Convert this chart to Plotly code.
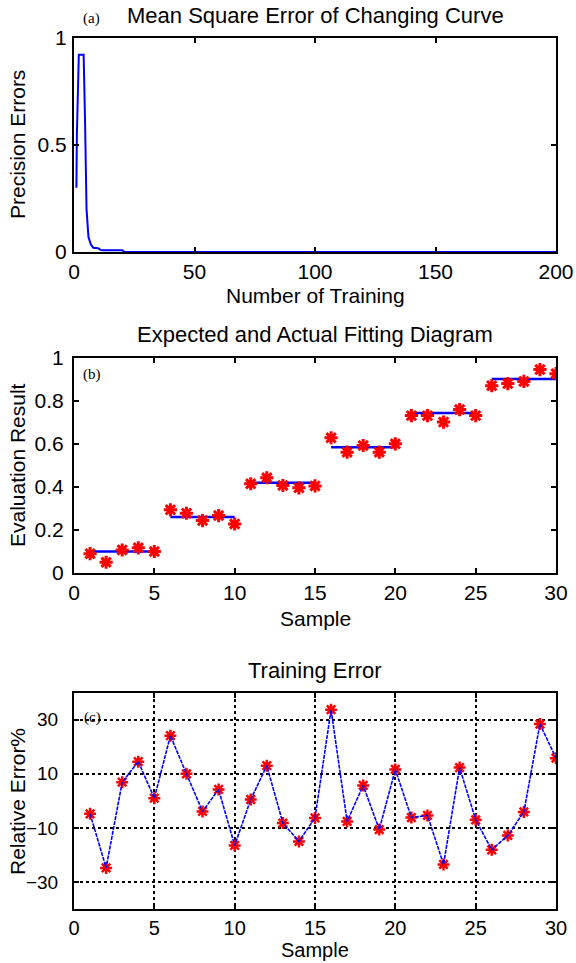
import plotly.graph_objects as go

# ---------- data ----------
# (a) mean square error curve
mse_epoch = [1, 1.2, 2, 4, 4.6, 5.2, 6, 7, 8, 10, 11, 12, 20, 21, 200]
mse_value = [0.30, 0.55, 0.92, 0.92, 0.60, 0.20, 0.07, 0.035, 0.02, 0.018, 0.01, 0.008, 0.008, 0.0, 0.0]

# (b) expected vs actual
samples = list(range(1, 31))
actual = [0.09, 0.05, 0.107, 0.117, 0.10,
          0.294, 0.278, 0.244, 0.267, 0.228,
          0.415, 0.443, 0.407, 0.396, 0.405,
          0.629, 0.562, 0.593, 0.562, 0.601,
          0.732, 0.732, 0.702, 0.760, 0.732,
          0.871, 0.881, 0.891, 0.946, 0.927]
group_start = [1, 6, 11, 16, 21, 26]
group_end = [5, 10, 15, 20, 25, 30]
expected = [0.10, 0.26, 0.42, 0.585, 0.744, 0.902]

# (c) relative training error (%)
rel_error = [-4.8, -24.8, 6.9, 14.5, 1.0, 24.1, 10.0, -3.9, 4.2, -16.5,
             0.5, 13.0, -8.2, -15.0, -6.3, 33.7, -7.6, 5.7, -10.6, 11.6,
             -6.2, -5.4, -23.5, 12.3, -7.0, -18.1, -12.8, -4.1, 28.4, 15.8]

W, H = 576, 963
def fx(p):
    return p / W
def fy(p):
    return 1 - p / H

FONT = "Liberation Sans, Arial, sans-serif"
SERIF = "Liberation Serif, Times New Roman, serif"
BLUE = "#0000ff"
RED = "#ff0000"

fig = go.Figure()

# (a)
fig.add_trace(go.Scatter(x=mse_epoch, y=mse_value, mode="lines",
                         line=dict(color=BLUE, width=2), xaxis="x", yaxis="y",
                         showlegend=False))

# (b)
lx, ly = [], []
for s, e, v in zip(group_start, group_end, expected):
    lx += [s, e, None]
    ly += [v, v, None]
fig.add_trace(go.Scatter(x=lx, y=ly, mode="lines", line=dict(color=BLUE, width=2.5),
                         xaxis="x2", yaxis="y2", showlegend=False))
fig.add_trace(go.Scatter(x=samples, y=actual, mode="markers",
                         marker=dict(symbol="asterisk-open", size=11, color=RED,
                                     line=dict(color=RED, width=3)),
                         xaxis="x2", yaxis="y2", showlegend=False))

# (c)
fig.add_trace(go.Scatter(x=samples, y=rel_error, mode="markers",
                         marker=dict(symbol="asterisk-open", size=10, color=RED,
                                     line=dict(color=RED, width=2.5)),
                         xaxis="x3", yaxis="y3", showlegend=False))
fig.add_trace(go.Scatter(x=samples, y=rel_error, mode="lines",
                         line=dict(color=BLUE, width=1.6, dash="4px,1px"),
                         xaxis="x3", yaxis="y3", showlegend=False))

axis_common = dict(showline=True, linecolor="black", linewidth=2, mirror="ticks",
                   ticks="inside", ticklen=5, tickwidth=1.5, tickcolor="black",
                   tickfont=dict(family=FONT, size=21, color="black"),
                   zeroline=False, showgrid=False, automargin=False, fixedrange=True)

xd = [fx(74), fx(556)]
fig.update_layout(
    width=W, height=H, template="none",
    margin=dict(l=0, r=0, t=0, b=0),
    paper_bgcolor="white", plot_bgcolor="white",
    font=dict(family=FONT, size=21, color="black"),
    xaxis=dict(axis_common, domain=xd, anchor="y", range=[0, 200],
               tickvals=[0, 50, 100, 150, 200]),
    yaxis=dict(axis_common, domain=[fy(252), fy(37.7)], anchor="x", range=[0, 1],
               tickvals=[0, 0.5, 1], ticktext=["0", "0.5", "1"], ticklabelstandoff=1),
    xaxis2=dict(axis_common, domain=xd, anchor="y2", range=[0, 30],
                tickvals=[0, 5, 10, 15, 20, 25, 30]),
    yaxis2=dict(axis_common, domain=[fy(573), fy(358)], anchor="x2", range=[0, 1],
                tickvals=[0, 0.2, 0.4, 0.6, 0.8, 1],
                ticktext=["0", "0.2", "0.4", "0.6", "0.8", "1"], ticklabelstandoff=4),
    xaxis3=dict(axis_common, domain=xd, anchor="y3", range=[0, 30],
                tickvals=[0, 5, 10, 15, 20, 25, 30],
                tickfont=dict(family=FONT, size=20, color="black"),
                showgrid=True, gridcolor="black", gridwidth=1.5, griddash="dot"),
    yaxis3=dict(axis_common, domain=[fy(909), fy(692.7)], anchor="x3", range=[-40, 40],
                tickvals=[-30, -10, 10, 30], ticklabelstandoff=10,
                tickfont=dict(family=FONT, size=19, color="black"),
                showgrid=True, gridcolor="black", gridwidth=1.5, griddash="dot"),
)

cx = fx(315)
ann = []
def text(x, y, s, size=21, fam=FONT, angle=0, ya="middle"):
    ann.append(dict(x=x, y=y, xref="paper", yref="paper", text=s, showarrow=False,
                    font=dict(family=fam, size=size, color="black"), textangle=angle,
                    xanchor="center", yanchor=ya))

text(cx, fy(16), "Mean Square Error of Changing Curve", 22)
text(cx, fy(334), "Expected and Actual Fitting Diagram", 22)
text(cx, fy(670), "Training Error", 22)
text(cx, fy(295), "Number of Training")
text(cx, fy(618), "Sample")
text(cx, 0.0, "Sample", 20, ya="bottom")
text(fx(18), fy(145), "Precision Errors", angle=-90)
text(fx(18), fy(465), "Evaluation Result", angle=-90)
text(fx(17), fy(802), "Relative Error%", angle=-90)
text(fx(91), fy(18), "(a)", 15, SERIF)
text(fx(92), fy(375), "(b)", 15, SERIF)
text(fx(92), fy(717), "(c)", 15, SERIF)
fig.update_layout(annotations=ann)

fig.write_html("out.html", config={"displayModeBar": False},
               post_script="document.body.style.margin='0';document.body.style.overflow='hidden';")
